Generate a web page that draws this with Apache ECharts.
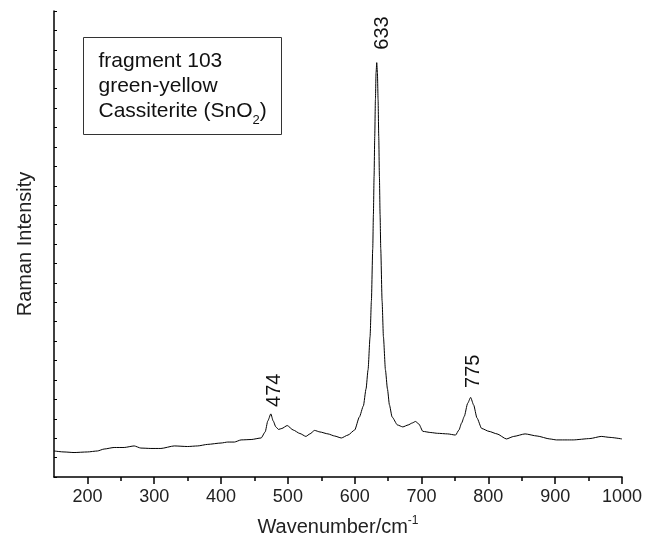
<!DOCTYPE html>
<html><head><meta charset="utf-8">
<script src="https://cdn.jsdelivr.net/npm/echarts@6/dist/echarts.min.js"></script>
<style>html,body{margin:0;padding:0;background:#fff}#c{width:645px;height:543px}</style>
</head><body><div id="c"></div>
<script>
// Wavenumber (cm-1)
const wavenumbers = [150,165,180,200,215,225,240,255,270,280,295,310,330,350,365,380,400,410,420,430,445,460,466,470,474.5,478,482,486,491,499,508,518,527,533,540,548,560,570,580,590,600,607,613,617,620,623,625,627,628,629,630,631,632,633,634,635,636,637,638,639,641,643,646,649,652,656,664,672,680,686,691,696,702,714,724,739,751,756,760,764,769,773.5,778,783,790,801,813,827,838,855,873,892,902,927,952,969,982,1000];
// Raman intensity (arbitrary units)
const intensity = [134,129,126,129,134,144,152,152,160,149,147,147,160,157,160,168,175,180,180,191,193,201,232,289,325,289,258,245,250,265,242,224,209,222,240,232,222,211,201,216,242,309,366,454,552,722,907,1175,1351,1547,1753,1943,2083,2134,2083,1943,1753,1547,1351,1175,907,722,552,454,371,309,268,258,268,278,286,273,235,229,225,222,216,242,278,312,379,410,371,304,250,235,222,196,209,222,211,196,191,191,198,209,204,196];
const peakLabels = ['474','633','775'];
const peakLabelX = [479.5,642,777.5];
const peakLabelY = [361,2201,459];
const xMajorTicks = [200,300,400,500,600,700,800,900,1000];
const xMinorTicks = [250,350,450,550,650,750,850,950];
const legendLines = ['fragment 103','green-yellow','Cassiterite (SnO{sub|2})'];

const chart = echarts.init(document.getElementById('c'));
const FONT = 'Liberation Sans, Arial, sans-serif';
const seriesData = wavenumbers.map((w,i)=>[w,intensity[i]]);
chart.setOption({
  animation:false,
  backgroundColor:'#fff',
  grid:{left:54,right:20,top:11,bottom:66},
  xAxis:[{
    type:'value', min:150, max:1000,
    axisLine:{show:true,lineStyle:{color:'#000',width:1.5}},
    axisTick:{show:true,inside:false,length:7,lineStyle:{color:'#000',width:1.5},customValues:xMajorTicks},
    axisLabel:{show:true,customValues:xMajorTicks,margin:11,fontSize:18,color:'#222',fontFamily:FONT,formatter:(v)=>String(v)},
    splitLine:{show:false},
    name:'Wavenumber/cm{sup|-1}', nameLocation:'middle', nameGap:38,
    nameTextStyle:{fontSize:20,color:'#222',fontFamily:FONT,rich:{sup:{fontSize:12,verticalAlign:'bottom',padding:[0,0,12,0],fontFamily:FONT,color:'#222'}}}
  },{
    type:'value', min:150, max:1000, position:'bottom',
    axisLine:{show:false},
    axisTick:{show:true,inside:false,length:4,lineStyle:{color:'#000',width:1.5},customValues:xMinorTicks},
    axisLabel:{show:false},
    splitLine:{show:false}
  }],
  yAxis:{
    type:'value', min:0, max:2400, interval:100,
    axisLine:{show:true,lineStyle:{color:'#000',width:1.5}},
    axisTick:{show:true,inside:true,length:3,lineStyle:{color:'#000',width:1}},
    axisLabel:{show:false},
    splitLine:{show:false},
    name:'Raman Intensity', nameLocation:'middle', nameGap:19,
    nameTextStyle:{fontSize:20,color:'#222',fontFamily:FONT}
  },
  series:[{
    type:'line', data:seriesData, showSymbol:false, smooth:0.2, smoothMonotone:'x',
    lineStyle:{color:'#000',width:1},
    markPoint:{
      symbol:'circle', symbolSize:0,
      label:{show:true,rotate:90,align:'left',verticalAlign:'middle',fontSize:20,color:'#111',fontFamily:FONT,
        formatter:(p)=>p.name},
      data: peakLabels.map((t,i)=>({name:t,coord:[peakLabelX[i],peakLabelY[i]]}))
    }
  }],
  graphic:[{
    type:'group', left:83, top:37,
    children:[
      {type:'rect',shape:{x:0,y:0,width:198,height:97},style:{fill:'#fff',stroke:'#333',lineWidth:1}},
      {type:'text',left:15,top:11,style:{text:legendLines.join('\n'),fontSize:21,lineHeight:25,fill:'#111',fontFamily:FONT,
        rich:{sub:{fontSize:13,verticalAlign:'top',padding:[15,0,0,0],fill:'#111',fontFamily:FONT}}}}
    ]
  }]
});
</script></body></html>
